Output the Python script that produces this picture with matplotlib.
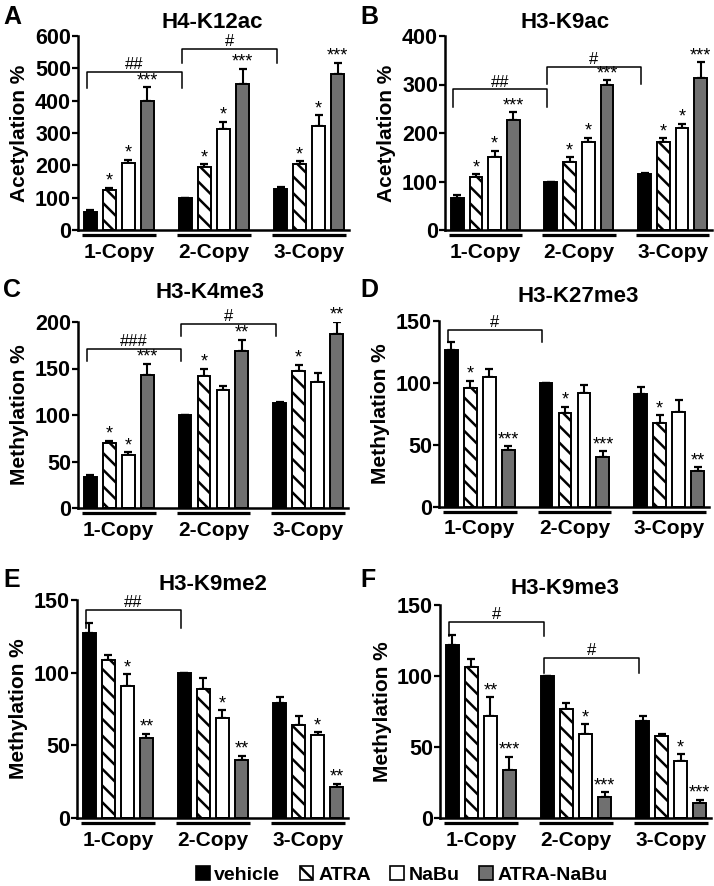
import numpy as np
import matplotlib
matplotlib.use("Agg")
import matplotlib.pyplot as plt
from matplotlib.patches import Patch
from matplotlib.transforms import offset_copy

plt.rcParams['font.family'] = ['Liberation Sans', 'DejaVu Sans']
plt.rcParams['hatch.linewidth'] = 1.8

groups = ['1-Copy', '2-Copy', '3-Copy']
treatments = ['vehicle', 'ATRA', 'NaBu', 'ATRA-NaBu']

# each row = one copy group, columns = vehicle, ATRA, NaBu, ATRA-NaBu
h4k12ac_mean = [[55, 125, 208, 400], [100, 195, 313, 453], [128, 205, 323, 482]]
h4k12ac_err = [[7, 5, 10, 42], [0, 8, 22, 45], [5, 7, 32, 36]]
h4k12ac_sig = [['', '*', '*', '***'], ['', '*', '*', '***'], ['', '*', '*', '***']]
h4k12ac_brk = [(0, 1, '##', 490, 438), (1, 2, '#', 559, 515)]

h3k9ac_mean = [[65, 110, 151, 227], [100, 141, 182, 299], [115, 182, 211, 313]]
h3k9ac_err = [[7, 5, 12, 16], [0, 9, 8, 10], [3, 7, 8, 33]]
h3k9ac_sig = [['', '*', '*', '***'], ['', '*', '*', '***'], ['', '*', '*', '***']]
h3k9ac_brk = [(0, 1, '##', 290, 253), (1, 2, '#', 337, 302)]

h3k4me3_mean = [[33, 70, 57, 143], [100, 142, 127, 169], [113, 147, 136, 187]]
h3k4me3_err = [[2, 2, 3, 12], [0, 8, 4, 12], [1, 7, 9, 13]]
h3k4me3_sig = [['', '*', '*', '***'], ['', '*', '', '**'], ['', '*', '', '**']]
h3k4me3_brk = [(0, 1, '###', 171, 158), (1, 2, '#', 198, 185)]

h3k27me3_mean = [[127, 96, 105, 46], [100, 76, 92, 40], [91, 68, 77, 29]]
h3k27me3_err = [[6, 6, 6, 3], [0, 5, 6, 5], [6, 6, 9, 3]]
h3k27me3_sig = [['', '*', '', '***'], ['', '*', '', '***'], ['', '*', '', '**']]
h3k27me3_brk = [(0, 1, '#', 143, 133)]

h3k9me2_mean = [[127, 109, 91, 55], [100, 89, 69, 40], [79, 64, 57, 21.5]]
h3k9me2_err = [[7, 3, 8, 3], [0, 7, 5, 3], [4, 6, 2, 2]]
h3k9me2_sig = [['', '', '*', '**'], ['', '', '*', '**'], ['', '', '*', '**']]
h3k9me2_brk = [(0, 1, '##', 143, 131)]

h3k9me3_mean = [[122, 106, 72, 34], [100, 77, 59, 15], [68.5, 58, 40, 10.5]]
h3k9me3_err = [[7, 6, 13, 9], [0, 4, 7, 3], [3, 1, 5, 2.5]]
h3k9me3_sig = [['', '', '**', '***'], ['', '', '*', '***'], ['', '', '*', '***']]
h3k9me3_brk = [(0, 1, '#', 138, 128.5), (1, 2, '#', 113, 102)]

colors = ['black', 'white', 'white', '#707070']
hatches = ['', '\\\\', '', '']

W, H = 714, 886
fig = plt.figure(figsize=(W / 100, H / 100), dpi=100)


def px_axes(left, top, width, height):
    return fig.add_axes([left / W, 1 - (top + height) / H, width / W, height / H])


def panel(ax, mean, err, sig, brk, ymax, ystep, ylabel):
    mean = np.array(mean, dtype=float)
    err = np.array(err, dtype=float)
    for i in range(4):
        x = np.arange(3) * 5 + i
        ax.bar(x, mean[:, i], width=0.68, color=colors[i], edgecolor='black',
               linewidth=1.4, hatch=hatches[i], zorder=2)
        ax.errorbar(x, mean[:, i], yerr=[np.zeros(3), err[:, i]], fmt='none',
                    ecolor='black', elinewidth=1.5, capsize=3, capthick=1.6, zorder=1)
        for g in range(3):
            if sig[g][i]:
                ax.annotate(sig[g][i], (x[g], mean[g, i] + err[g, i]), xytext=(0, 1.5),
                            textcoords='offset points', ha='center', va='baseline',
                            fontsize=13, annotation_clip=False)
    for a, b, lab, y, y0 in brk:
        xa, xb = 5 * a - 0.2, 5 * b - 0.2
        ax.plot([xa, xa, xb, xb], [y0, y, y, y0], color='black', lw=1.1,
                clip_on=False, zorder=3)
        ax.annotate(lab, ((xa + xb) / 2, y), xytext=(0, 2), textcoords='offset points',
                    ha='center', va='baseline', fontsize=12, annotation_clip=False)

    ax.set_xlim(-0.65, 13.6)
    ax.set_ylim(0, ymax)
    ax.set_yticks(np.arange(0, ymax + 1, ystep))
    ax.set_xticks(np.arange(3) * 5 + 1.5)
    ax.set_xticklabels(groups)
    ax.tick_params(axis='x', length=0, pad=9, labelsize=15)
    ax.tick_params(axis='y', length=4, width=1.6, pad=1, labelsize=15.5)
    for lbl in ax.get_xticklabels() + ax.get_yticklabels():
        lbl.set_fontweight('bold')
    ax.spines['top'].set_visible(False)
    ax.spines['right'].set_visible(False)
    ax.spines['left'].set_linewidth(1.8)
    ax.spines['bottom'].set_linewidth(1.8)
    ax.set_ylabel(ylabel, fontsize=15, fontweight='bold', labelpad=4)
    ax.patch.set_alpha(0)

    # underline under each copy group
    trans = offset_copy(ax.get_xaxis_transform(), fig=fig, x=0, y=-5, units='dots')
    for g in range(3):
        ax.plot([5 * g - 0.45, 5 * g + 3.45], [0, 0], transform=trans, color='black',
                lw=2.3, solid_capstyle='butt', clip_on=False)
    return ax


axA = px_axes(78, 36, 271, 194)
panel(axA, h4k12ac_mean, h4k12ac_err, h4k12ac_sig, h4k12ac_brk, 600, 100, 'Acetylation %')
axB = px_axes(445, 36, 267, 194)
panel(axB, h3k9ac_mean, h3k9ac_err, h3k9ac_sig, h3k9ac_brk, 400, 100, 'Acetylation %')
axC = px_axes(78, 322, 270, 186)
panel(axC, h3k4me3_mean, h3k4me3_err, h3k4me3_sig, h3k4me3_brk, 200, 50, 'Methylation %')
axD = px_axes(439, 321, 270, 186)
panel(axD, h3k27me3_mean, h3k27me3_err, h3k27me3_sig, h3k27me3_brk, 150, 50, 'Methylation %')
axE = px_axes(77, 600, 271, 218)
panel(axE, h3k9me2_mean, h3k9me2_err, h3k9me2_sig, h3k9me2_brk, 150, 50, 'Methylation %')
axF = px_axes(440, 605, 271, 213)
panel(axF, h3k9me3_mean, h3k9me3_err, h3k9me3_sig, h3k9me3_brk, 150, 50, 'Methylation %')

# titles and panel letters (pixel positions)
titles = [('H4-K12ac', 212, 22), ('H3-K9ac', 565, 22), ('H3-K4me3', 210, 292),
          ('H3-K27me3', 578, 296), ('H3-K9me2', 213, 585), ('H3-K9me3', 565, 589)]
for t, x, y in titles:
    fig.text(x / W, 1 - y / H, t, ha='center', va='center', fontsize=16, fontweight='bold')

letters = [('A', 3, 5), ('B', 360, 5), ('C', 3, 278), ('D', 360, 278), ('E', 3, 568), ('F', 360, 568)]
for t, x, y in letters:
    fig.text(x / W, 1 - y / H, t, ha='left', va='top', fontsize=18, fontweight='bold')

handles = [Patch(facecolor=colors[i], edgecolor='black', hatch=hatches[i].replace('\\\\', '\\'),
                 linewidth=1.2) for i in range(4)]
fig.legend(handles, treatments, loc='center', bbox_to_anchor=(402 / W, 1 - 875 / H), ncol=4,
           frameon=False, prop={'weight': 'bold', 'size': 14}, handlelength=0.7,
           handleheight=0.7, handletextpad=0.25, columnspacing=1.0, borderpad=0,
           borderaxespad=0)

fig.savefig('out.png', dpi=100)
